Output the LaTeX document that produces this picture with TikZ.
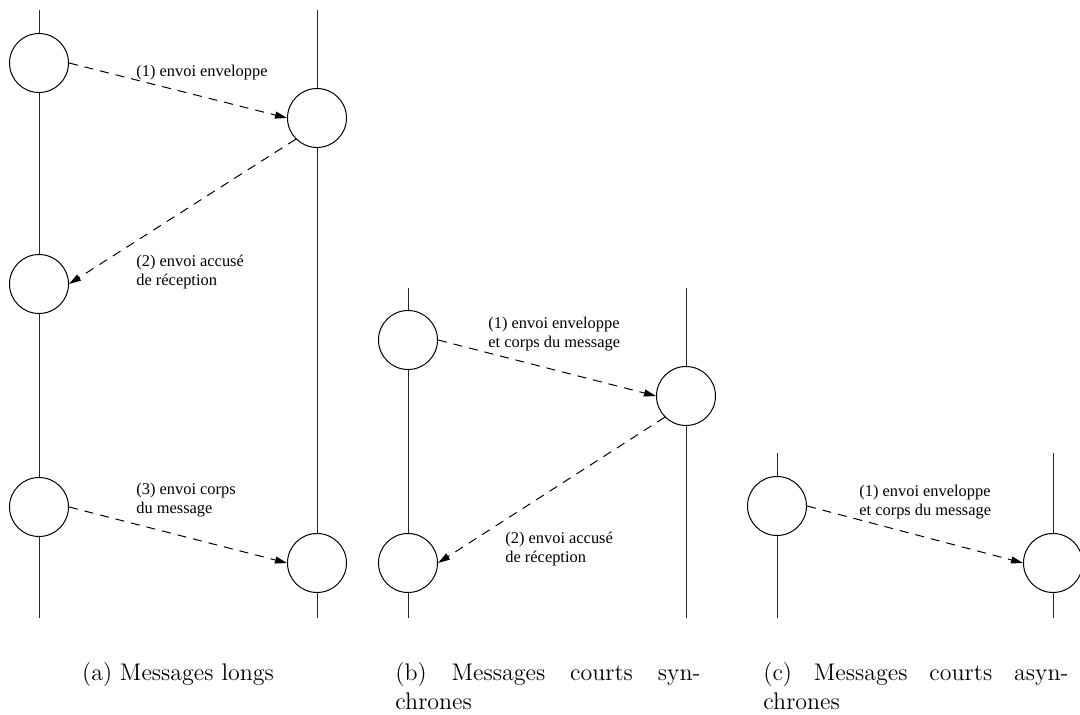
\documentclass[tikz,border=0pt]{standalone}
\usepackage{fontspec}
\newfontfamily\lblfont{Liberation Serif}
\usetikzlibrary{arrows.meta}

\begin{document}
\begin{tikzpicture}[x=.5pt,y=-.5pt,
    proc/.style={circle,draw,fill=white,minimum size=29.5pt,inner sep=0pt,line width=.5pt},
    life/.style={line width=.5pt,draw=black!85},
    msg/.style={-{Triangle[length=6pt,width=3.5pt]},dash pattern=on 4.5pt off 3.5pt,line width=.5pt},
    lbl/.style={anchor=west,align=left,inner sep=0pt,font=\lblfont\fontsize{8.2}{9.5}\selectfont},
    capt/.style={anchor=north west,align=left,inner sep=0pt,font=\fontsize{12}{14.5}\selectfont}]
  \useasboundingbox(0,0)rectangle(1080,715);
  % (a) messages longs
  \coordinate(aLt)at(39,10);\coordinate(aLb)at(39,618);
  \coordinate(aRt)at(317,10);\coordinate(aRb)at(317,618);
  \draw[life](aLt)--(aLb);\draw[life](aRt)--(aRb);
  \node[proc](a1)at(39,63){};
  \node[proc](a2)at(39,284){};
  \node[proc](a3)at(39,507){};
  \node[proc](a4)at(317,118){};
  \node[proc](a5)at(317,563){};
  \draw[msg](a1.east)--(a4.west);
  \draw[msg](a4.south west)--(a2.east);
  \draw[msg](a3.east)--(a5.west);
  \node[lbl](al1)at(136,73){(1) envoi enveloppe};
  \node[lbl](al2)at(136,272){(2) envoi accusé\\de réception};
  \node[lbl](al3)at(136,500){(3) envoi corps\\du message};
  % (b) messages courts synchrones
  \coordinate(bLt)at(408,288);\coordinate(bLb)at(408,618);
  \coordinate(bRt)at(686,288);\coordinate(bRb)at(686,618);
  \draw[life](bLt)--(bLb);\draw[life](bRt)--(bRb);
  \node[proc](b1)at(408,340){};
  \node[proc](b2)at(408,563){};
  \node[proc](b3)at(686,396){};
  \draw[msg](b1.east)--(b3.west);
  \draw[msg](b3.south west)--(b2.east);
  \node[lbl](bl1)at(488,334){(1) envoi enveloppe\\et corps du message};
  \node[lbl](bl2)at(505,549){(2) envoi accusé\\de réception};
  % (c) messages courts asynchrones
  \coordinate(cLt)at(777,453);\coordinate(cLb)at(777,618);
  \coordinate(cRt)at(1053,453);\coordinate(cRb)at(1053,618);
  \draw[life](cLt)--(cLb);\draw[life](cRt)--(cRb);
  \node[proc](c1)at(777,506){};
  \node[proc](c2)at(1053,563){};
  \draw[msg](c1.east)--(c2.west);
  \node[lbl](cl1)at(859,502){(1) envoi enveloppe\\et corps du message};
  % legendes
  \node[capt,anchor=north](ca)at(178,662){(a) Messages longs};
  \node[capt](cb)at(395,662){\makebox[152.5pt][s]{(b) Messages courts syn-}\\chrones};
  \node[capt](cc)at(763,662){\makebox[152.5pt][s]{(c) Messages courts asyn-}\\chrones};
\end{tikzpicture}
\end{document}
